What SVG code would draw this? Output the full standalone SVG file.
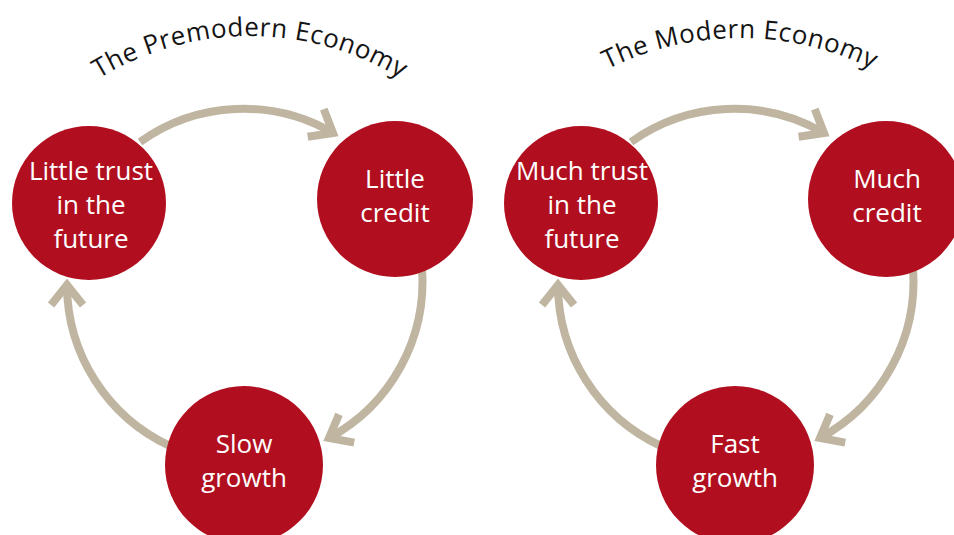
<svg xmlns="http://www.w3.org/2000/svg" width="954" height="535" viewBox="0 0 954 535">
  <style>
    .node { fill: #b10f1f; }
    .lbl { font-family: "Open Sans", "Liberation Sans", sans-serif; font-size: 26px; fill: #ffffff; text-anchor: middle; }
    .title { font-family: "Open Sans", "Liberation Sans", sans-serif; font-size: 26px; fill: #141414; letter-spacing: 0.5px; }
    .arc { fill: none; stroke: #bfb5a1; stroke-width: 8; }
  </style>
  <defs>
    <marker id="chev" markerUnits="userSpaceOnUse" markerWidth="40" markerHeight="40" viewBox="-30 -20 40 40" refX="0" refY="0" orient="auto">
      <path d="M-20,-16 L0,0 L-20,16" fill="none" stroke="#bfb5a1" stroke-width="8" stroke-linejoin="miter" stroke-miterlimit="6"/>
    </marker>
    <path id="titleArcL" d="M27.9,139.6 A290,290 0 0 1 472.1,139.6"/>
    <path id="titleArcR" d="M513.3,143.7 A296,296 0 0 1 966.7,143.7"/>
  </defs>
  <rect width="954" height="535" fill="#ffffff"/>

  <g id="titles">
    <text class="title"><textPath href="#titleArcL" startOffset="50%" text-anchor="middle">The Premodern Economy</textPath></text>
    <text class="title"><textPath href="#titleArcR" startOffset="50%" text-anchor="middle">The Modern Economy</textPath></text>
  </g>

  <g id="connectors">
    <path class="arc" d="M140,142 A178,178 0 0 1 333,133" marker-end="url(#chev)"/>
    <path class="arc" d="M422,268 A178,178 0 0 1 329,438" marker-end="url(#chev)"/>
    <path class="arc" d="M170,446 A178,178 0 0 1 67,285" marker-end="url(#chev)"/>
    <path class="arc" d="M631,142 A178,178 0 0 1 824,133" marker-end="url(#chev)"/>
    <path class="arc" d="M913,268 A178,178 0 0 1 820,438" marker-end="url(#chev)"/>
    <path class="arc" d="M661,446 A178,178 0 0 1 558,285" marker-end="url(#chev)"/>
  </g>

  <g id="node-little-trust">
    <circle class="node" cx="89" cy="203" r="77"/>
    <text class="lbl" x="91" y="180">Little trust</text>
    <text class="lbl" x="91" y="214">in the</text>
    <text class="lbl" x="91" y="248">future</text>
  </g>
  <g id="node-little-credit">
    <circle class="node" cx="395" cy="199" r="78"/>
    <text class="lbl" x="395" y="188">Little</text>
    <text class="lbl" x="395" y="222">credit</text>
  </g>
  <g id="node-slow-growth">
    <circle class="node" cx="244" cy="465" r="79"/>
    <text class="lbl" x="244" y="453">Slow</text>
    <text class="lbl" x="244" y="487">growth</text>
  </g>

  <g id="node-much-trust">
    <circle class="node" cx="581" cy="203" r="77"/>
    <text class="lbl" x="582" y="180">Much trust</text>
    <text class="lbl" x="582" y="214">in the</text>
    <text class="lbl" x="582" y="248">future</text>
  </g>
  <g id="node-much-credit">
    <circle class="node" cx="886" cy="199" r="78"/>
    <text class="lbl" x="887" y="188">Much</text>
    <text class="lbl" x="887" y="222">credit</text>
  </g>
  <g id="node-fast-growth">
    <circle class="node" cx="735" cy="465" r="79"/>
    <text class="lbl" x="735" y="453">Fast</text>
    <text class="lbl" x="735" y="487">growth</text>
  </g>
</svg>
